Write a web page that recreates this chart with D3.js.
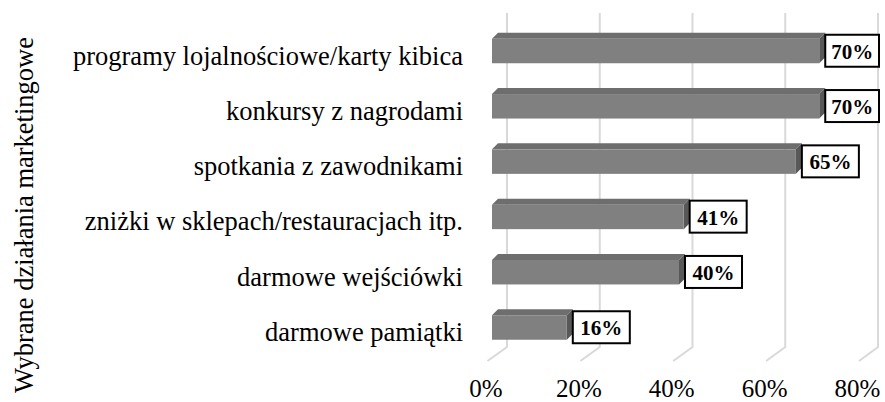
<!DOCTYPE html>
<html>
<head>
<meta charset="utf-8">
<script src="https://cdn.jsdelivr.net/npm/d3@7"></script>
<style>
  body { margin: 0; background: #fff; }
</style>
</head>
<body>
<script>
// Data
var categories = [
  "programy lojalnościowe/karty kibica",
  "konkursy z nagrodami",
  "spotkania z zawodnikami",
  "zniżki w sklepach/restauracjach itp.",
  "darmowe wejściówki",
  "darmowe pamiątki"
];
var values = [0.70, 0.70, 0.65, 0.41, 0.40, 0.16];
var valueLabels = ["70%", "70%", "65%", "41%", "40%", "16%"];
var tickValues = [0, 0.2, 0.4, 0.6, 0.8];
var axisTitle = "Wybrane działania marketingowe";

var width = 885, height = 402;
var depth = 6; // bar 3D depth
var font = "'Liberation Serif'";

var svg = d3.select("body").append("svg")
  .attr("width", width)
  .attr("height", height);

// Scales: back wall, front floor edge, bar front plane
var xBack = d3.scaleLinear().domain([0, 0.8]).range([507, 878]);
var xFront = d3.scaleLinear().domain([0, 0.8]).range([487.5, 859]);
var xBar = d3.scaleLinear().domain([0, 0.8]).range([492, 866]);
var y = d3.scalePoint().domain(categories).range([51, 327.5]);

var gridTop = 13, gridBottom = 347, floorFront = 361;

// Gridlines (wall + floor)
svg.append("g")
  .selectAll("path")
  .data(tickValues)
  .join("path")
  .attr("fill", "none")
  .attr("stroke", "#d9d9d9")
  .attr("stroke-width", 2)
  .attr("d", d => "M" + xBack(d) + "," + gridTop +
    "L" + xBack(d) + "," + gridBottom +
    "L" + xFront(d) + "," + floorFront);

// Bars
var bars = svg.append("g")
  .selectAll("g")
  .data(values)
  .join("g");

var barH = 24.5;

// top face
bars.append("path")
  .attr("fill", "#6e6e6e")
  .attr("d", (d, i) => {
    var t = y(categories[i]) - barH / 2, x0 = xBar(0), x1 = xBar(d);
    return "M" + x0 + "," + t + "L" + (x0 + depth) + "," + (t - depth) +
      "L" + (x1 + depth) + "," + (t - depth) + "L" + x1 + "," + t + "Z";
  });

// side face
bars.append("path")
  .attr("fill", "#585858")
  .attr("d", (d, i) => {
    var t = y(categories[i]) - barH / 2, b = t + barH, x1 = xBar(d);
    return "M" + x1 + "," + t + "L" + (x1 + depth) + "," + (t - depth) +
      "L" + (x1 + depth) + "," + (b - depth) + "L" + x1 + "," + b + "Z";
  });

// front face
bars.append("rect")
  .attr("fill", "#808080")
  .attr("x", xBar(0))
  .attr("y", (d, i) => y(categories[i]) - barH / 2)
  .attr("width", d => xBar(d) - xBar(0))
  .attr("height", barH);

// Data labels
var boxW = 59, boxH = 34;
var boxWidth = d => Math.min(boxW, 880 - (xBar(d) + 5));
var labels = svg.append("g")
  .selectAll("g")
  .data(values)
  .join("g")
  .attr("transform", (d, i) => {
    var left = xBar(d) + 5;
    var top = y(categories[i]) - barH / 2 - 5;
    return "translate(" + left + "," + top + ")";
  });

labels.append("rect")
  .attr("x", 1)
  .attr("y", 1)
  .attr("width", d => boxWidth(d) - 2)
  .attr("height", boxH - 2)
  .attr("fill", "#fff")
  .attr("stroke", "#000")
  .attr("stroke-width", 2);

labels.append("text")
  .attr("x", d => boxWidth(d) / 2)
  .attr("y", boxH / 2 + 8)
  .attr("text-anchor", "middle")
  .style("font-family", font)
  .style("font-size", "21px")
  .style("font-weight", "bold")
  .text((d, i) => valueLabels[i]);

// Category axis
var yAxis = svg.append("g")
  .attr("transform", "translate(463,0)")
  .call(d3.axisLeft(y).tickSize(0).tickPadding(0));
yAxis.select(".domain").remove();
yAxis.selectAll("text")
  .attr("dy", null)
  .attr("y", 13)
  .attr("fill", "#000")
  .style("font-family", font)
  .style("font-size", "26.5px");

// Value axis (labels only)
var xAxis = svg.append("g")
  .attr("transform", "translate(-2,0)")
  .call(d3.axisBottom(xFront).tickValues(tickValues).tickFormat(d3.format(".0%")).tickSize(0).tickPadding(0));
xAxis.select(".domain").remove();
xAxis.selectAll("text")
  .attr("dy", null)
  .attr("y", 397)
  .attr("fill", "#000")
  .style("font-family", font)
  .style("font-size", "25px");

// Axis title
svg.append("text")
  .attr("transform", "translate(33,215) rotate(-90)")
  .attr("text-anchor", "middle")
  .style("font-family", font)
  .style("font-size", "26.5px")
  .text(axisTitle);
</script>
</body>
</html>
